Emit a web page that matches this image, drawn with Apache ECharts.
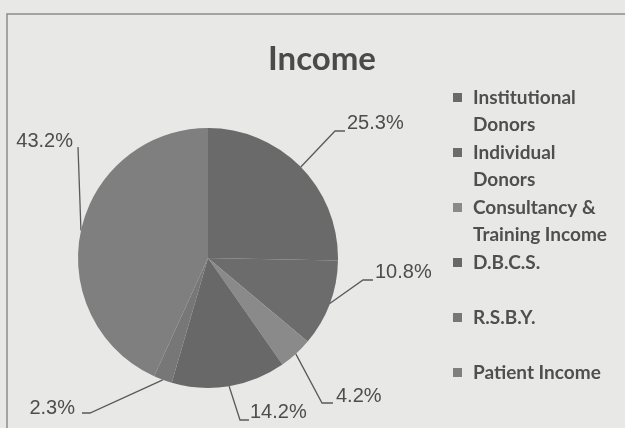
<!DOCTYPE html>
<html lang="en">
<head>
<meta charset="utf-8">
<title>Income</title>
<script src="https://cdn.jsdelivr.net/npm/echarts@6/dist/echarts.min.js"></script>
<style>
  html, body { margin: 0; padding: 0; background: #e8e8e6; }
  #chart { width: 625px; height: 428px; }
</style>
</head>
<body>
<div id="chart"></div>
<script>
// data
var categories = ['Institutional Donors', 'Individual Donors', 'Consultancy & Training Income', 'D.B.C.S.', 'R.S.B.Y.', 'Patient Income'];
var legendText = ['Institutional\nDonors', 'Individual\nDonors', 'Consultancy &\nTraining Income', 'D.B.C.S.', 'R.S.B.Y.', 'Patient Income'];
var shares = [25.3, 10.8, 4.2, 14.2, 2.3, 43.2];
var sliceColors = ['#6a6a6a', '#6c6c6c', '#8a8a8a', '#686868', '#777777', '#7f7f7f'];

// where the labels were dragged to in the original (x, middle y, align)
var labelAnchor = [[347, 123, 'left'], [375, 272, 'left'], [336, 396, 'left'], [250, 412, 'left'], [75, 408, 'right'], [73, 141, 'right']];
// leader bends, relative to the label anchor
var labelLeader = [
  [[-12, 8], [-2, 8]],
  [[-12, 8], [-2, 8]],
  [[-14, 7], [-3, 7]],
  [[-10, 8], [-1, 8]],
  [[15, 5], [7, 5]],
  [[5, 6]]
];

var pieData = [];
for (var i = 0; i < categories.length; i++) {
  pieData.push({ name: categories[i], value: shares[i], itemStyle: { color: sliceColors[i] } });
}

var myChart = echarts.init(document.getElementById('chart'));
var option = {
  backgroundColor: '#e8e8e6',
  animation: false,
  title: {
    text: 'Income',
    left: 317,
    top: 38,
    textAlign: 'center',
    textStyle: { fontFamily: 'Lato', fontWeight: 'bold', fontSize: 33, color: '#4a4a4a' }
  },
  graphic: [{
    type: 'rect',
    silent: true,
    shape: { x: 7, y: 14, width: 700, height: 500 },
    style: { fill: 'none', stroke: '#8c8c8c', lineWidth: 1.5 }
  }],
  legend: {
    orient: 'vertical',
    left: 453,
    top: 57,
    padding: 0,
    itemGap: -26,
    itemWidth: 9,
    itemHeight: 9,
    icon: 'rect',
    data: categories,
    formatter: function (name) {
      var t = legendText[categories.indexOf(name)];
      // pad to three lines so the square sits on the first line
      return t.indexOf('\n') >= 0 ? '\n' + t : '\n' + t + '\n';
    },
    textStyle: {
      fontFamily: 'Lato', fontWeight: 'bold', fontSize: 19, lineHeight: 27,
      color: '#4f4f4f', padding: [0, 0, 0, 6]
    }
  },
  series: [{
    type: 'pie',
    center: [208, 258],
    radius: 130,
    startAngle: 90,
    clockwise: true,
    avoidLabelOverlap: false,
    emphasis: { disabled: true },
    itemStyle: { borderWidth: 0 },
    label: {
      show: true,
      position: 'outside',
      fontFamily: 'Liberation Sans',
      fontSize: 20,
      color: '#4d4d4d',
      formatter: function (p) { return p.value.toFixed(1) + '%'; }
    },
    labelLine: {
      show: true,
      length: 10,
      length2: 10,
      lineStyle: { color: '#5a5a5a', width: 1.3 }
    },
    labelLayout: function (params) {
      var a = labelAnchor[params.dataIndex];
      var res = { x: a[0], y: a[1], align: a[2], verticalAlign: 'middle' };
      if (params.labelLinePoints) {
        var pts = [params.labelLinePoints[0]];
        labelLeader[params.dataIndex].forEach(function (d) {
          pts.push([a[0] + d[0], a[1] + d[1]]);
        });
        res.labelLinePoints = pts;
      }
      return res;
    },
    data: pieData
  }]
};
myChart.setOption(option);
</script>
</body>
</html>
